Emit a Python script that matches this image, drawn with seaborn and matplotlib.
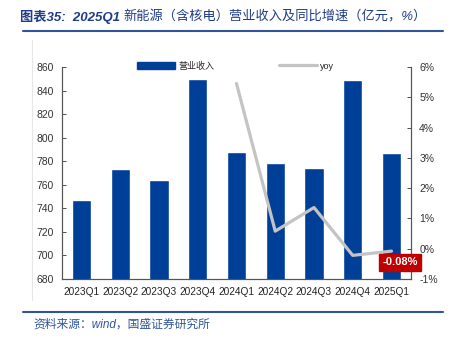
import matplotlib
matplotlib.use("Agg")
import matplotlib.pyplot as plt
import seaborn as sns
import pandas as pd
import numpy as np
from matplotlib.patches import Patch
from matplotlib.lines import Line2D

quarters = ["2023Q1", "2023Q2", "2023Q3", "2023Q4", "2024Q1", "2024Q2", "2024Q3", "2024Q4", "2025Q1"]
revenue = [747.1, 773.2, 764.1, 849.8, 787.9, 778.3, 774.6, 848.9, 787.1]
yoy = [np.nan, np.nan, np.nan, np.nan, 5.46, 0.58, 1.36, -0.22, -0.08]
left_ticks = [680, 700, 720, 740, 760, 780, 800, 820, 840, 860]
right_ticks = [-1, 0, 1, 2, 3, 4, 5, 6]

sns.set_style("white")
plt.rcParams["font.family"] = ["Liberation Sans", "Noto Sans CJK SC", "DejaVu Sans"]

BLUE = "#003F98"
GRAY = "#C4C4C4"
TITLE_BLUE = "#1F3C88"

df = pd.DataFrame({"quarter": quarters, "revenue": revenue, "yoy": yoy, "pos": np.arange(len(quarters))})

fig = plt.figure(figsize=(4.53, 3.44), dpi=100)
ax = fig.add_axes([0.137, 0.189, 0.770, 0.616])

sns.barplot(data=df, x="quarter", y="revenue", color=BLUE, width=0.5, ax=ax, saturation=1)
ax.set_ylim(680, 860)
ax.set_yticks(left_ticks)
ax.set_xlim(-0.5, len(quarters) - 0.5)
ax.set_xlabel("")
ax.set_ylabel("")
ax.set_xticks(np.arange(len(quarters)))
ax.set_xticklabels(quarters, fontsize=7.3, color="#222222")
ax.set_xticks(np.arange(len(quarters) + 1) - 0.5, minor=True)
ax.tick_params(axis="x", which="major", length=0, pad=6)
ax.tick_params(axis="x", which="minor", direction="in", length=3, color="#333333", width=0.6)
ax.tick_params(axis="y", direction="in", length=3, labelsize=7.5, colors="#333333", width=0.6, pad=6)
ax.spines["top"].set_visible(False)
for s in ["left", "bottom", "right"]:
    ax.spines[s].set_color("#555555")
    ax.spines[s].set_linewidth(0.8)

ax2 = ax.twinx()
sns.lineplot(data=df.dropna(), x="pos", y="yoy", color=GRAY, linewidth=2.3, ax=ax2)
ax2.set_ylim(-1, 6)
ax2.set_yticks(right_ticks)
ax2.set_yticklabels([f"{t}%" for t in right_ticks])
ax2.set_xlabel("")
ax2.set_ylabel("")
ax2.tick_params(axis="y", direction="in", length=3, labelsize=7.5, colors="#333333", width=0.6, pad=6)
ax2.spines["top"].set_visible(False)
for s in ["left", "bottom", "right"]:
    ax2.spines[s].set_color("#555555")
    ax2.spines[s].set_linewidth(0.8)
ax2.set_xlim(-0.5, len(quarters) - 0.5)

# label for last value
ax2.annotate(f"{yoy[-1]:.2f}%", xy=(len(quarters) - 1, yoy[-1]), xytext=(6, -8),
             textcoords="offset points", ha="center", va="center", fontsize=8,
             color="white", fontweight="bold",
             bbox=dict(boxstyle="square,pad=0.3", fc="#C00000", ec="#C00000"))

# legend
handles = [Patch(facecolor=BLUE, edgecolor=BLUE), Line2D([0], [0], color=GRAY, lw=2.3)]
fig.legend(handles, ["营业收入", "yoy"], loc="center", bbox_to_anchor=(0.52, 1 - 66 / 344),
           ncol=2, frameon=False, fontsize=6.5, handlelength=4.2, handleheight=0.7,
           columnspacing=7.1, handletextpad=0.4)

# title and footer
fam = ["Liberation Sans", "Noto Sans CJK SC"]
t1 = fig.text(20 / 453, 1 - 17 / 344, "图表35:  2025Q1 ", fontsize=9.5, color=TITLE_BLUE,
              fontweight="bold", va="center", ha="left", family=fam, style="italic")
fig.canvas.draw()
bb = t1.get_window_extent()
fig.text(bb.x1 / fig.bbox.width, 1 - 17 / 344, "新能源（含核电）营业收入及同比增速（亿元，%）",
         fontsize=9.5, color=TITLE_BLUE, va="center", ha="left", family=fam, style="italic")
fig.add_artist(Line2D([23 / 453, 443 / 453], [1 - 31 / 344, 1 - 31 / 344], color="#2F5597", lw=1.5))
fig.add_artist(Line2D([23 / 453, 443 / 453], [1 - 312 / 344, 1 - 312 / 344], color="#2F5597", lw=1.5))
fig.add_artist(Line2D([32 / 453, 32 / 453], [1 - 300 / 344, 1 - 40 / 344], color="#E6E6E6", lw=0.8))
fig.text(33 / 453, 1 - 325 / 344, "资料来源：wind，国盛证券研究所", fontsize=8.5, color="#2F5597",
         va="center", ha="left", family=fam, style="italic")

fig.savefig("out.png", dpi=100)
